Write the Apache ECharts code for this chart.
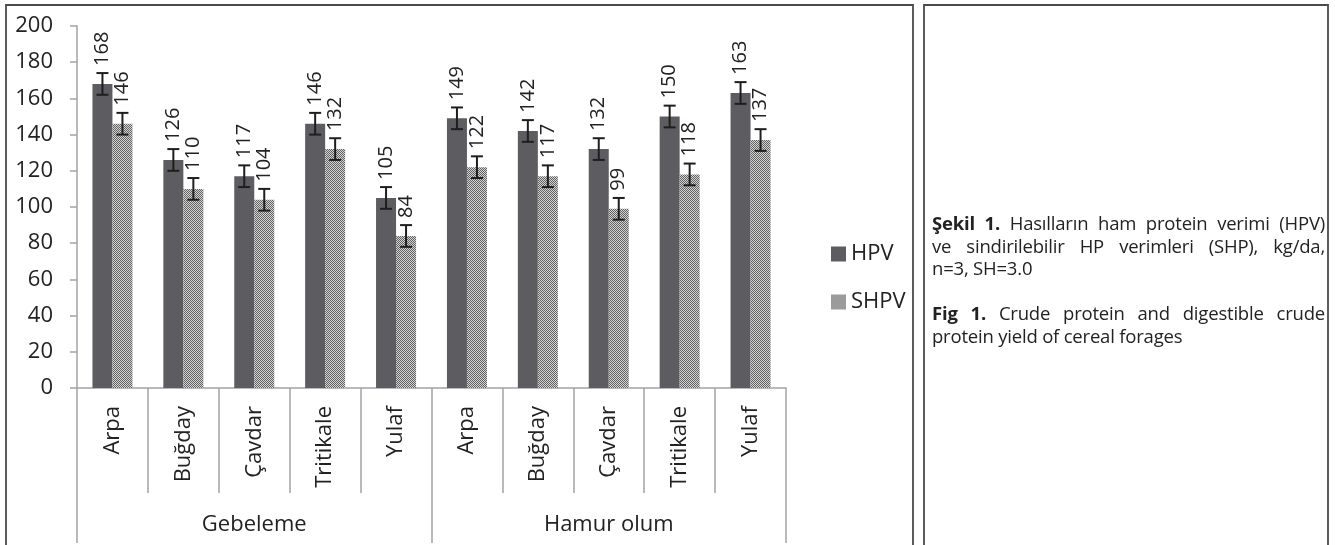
<!DOCTYPE html>
<html>
<head>
<meta charset="utf-8">
<script src="https://cdn.jsdelivr.net/npm/echarts@6/dist/echarts.min.js"></script>
<style>
  html, body { margin:0; padding:0; background:#fff; }
  #wrap { position:relative; width:1335px; height:545px; overflow:hidden; }
  #chart { position:absolute; left:0; top:0; width:1335px; height:545px; }
  #caption { position:absolute; left:932px; top:212px; width:393px; font-family:"Open Sans", sans-serif; font-size:18.5px; color:#222; line-height:22.6px; letter-spacing:-0.2px; }
  #caption .j { text-align:justify; text-align-last:justify; white-space:nowrap; }
  #caption .l { text-align:left; white-space:nowrap; }
  #caption b { font-weight:700; }
</style>
</head>
<body>
<div id="wrap">
  <div id="chart"></div>
  <div id="caption">
    <div class="j"><b>Şekil 1.</b> Hasılların ham protein verimi (HPV)</div>
    <div class="j">ve sindirilebilir HP verimleri (SHP), kg/da,</div>
    <div class="l">n=3, SH=3.0</div>
    <div class="l">&nbsp;</div>
    <div class="j"><b>Fig 1.</b> Crude protein and digestible crude</div>
    <div class="l">protein yield of cereal forages</div>
  </div>
</div>
<script>
const categories = ['Arpa', 'Buğday', 'Çavdar', 'Tritikale', 'Yulaf', 'Arpa', 'Buğday', 'Çavdar', 'Tritikale', 'Yulaf'];
const groups = ['Gebeleme', 'Hamur olum'];
const seriesNames = ['HPV', 'SHPV'];
const hpv = [168, 126, 117, 146, 105, 149, 142, 132, 150, 163];
const shpv = [146, 110, 104, 132, 84, 122, 117, 99, 118, 137];
const hpvErr = [6, 6, 6, 6, 6, 6, 6, 6, 6, 6];
const shpvErr = [6, 6, 6, 6, 6, 6, 6, 6, 6, 6];
const yTicks = [0, 20, 40, 60, 80, 100, 120, 140, 160, 180, 200];

const FONT = '"Open Sans", sans-serif';
const TXT = '#222';
const AXIS = '#a3a3a3';

// checkered pattern for SHPV
const pc = document.createElement('canvas');
pc.width = 2; pc.height = 2;
const pctx = pc.getContext('2d');
pctx.fillStyle = '#d4d4d4'; pctx.fillRect(0, 0, 2, 2);
pctx.fillStyle = '#626262'; pctx.fillRect(0, 0, 1, 1); pctx.fillRect(1, 1, 1, 1);
const shpvPattern = { image: pc, repeat: 'repeat' };

function errSeries(vals, errs, offset) {
  return {
    type: 'custom',
    z: 5,
    silent: true,
    data: vals.map((v, i) => [i, v, errs[i]]),
    renderItem: function (params, api) {
      const x = api.value(0), v = api.value(1), e = api.value(2);
      const top = api.coord([x, v + e]);
      const bot = api.coord([x, v - e]);
      const cx = top[0] + offset;
      const st = { stroke: '#1e1e1e', lineWidth: 2 };
      return {
        type: 'group',
        children: [
          { type: 'line', shape: { x1: cx, y1: top[1], x2: cx, y2: bot[1] }, style: st },
          { type: 'line', shape: { x1: cx - 6, y1: top[1], x2: cx + 6, y2: top[1] }, style: st },
          { type: 'line', shape: { x1: cx - 6, y1: bot[1], x2: cx + 6, y2: bot[1] }, style: st }
        ]
      };
    }
  };
}

const labelCfg = {
  show: true, position: 'top', rotate: 90, distance: 18,
  align: 'left', verticalAlign: 'middle',
  color: TXT, fontSize: 20, fontFamily: FONT
};

const chart = echarts.init(document.getElementById('chart'), null, { renderer: 'canvas' });
chart.setOption({
  animation: false,
  backgroundColor: '#fff',
  grid: { left: 77, right: 549, top: 26, bottom: 157, containLabel: false },
  legend: {
    data: seriesNames,
    orient: 'vertical', left: 826, top: 238,
    itemWidth: 15, itemHeight: 15, itemGap: 26,
    icon: 'rect',
    textStyle: { color: TXT, fontSize: 22, fontFamily: FONT, lineHeight: 22 }
  },
  xAxis: [
    {
      type: 'category', data: categories, position: 'bottom',
      axisLine: { show: true, lineStyle: { color: AXIS, width: 1.5 } },
      axisTick: { show: true, interval: 0, length: 105, lineStyle: { color: AXIS, width: 1.5 } },
      axisLabel: { interval: 0, rotate: 90, margin: 18, color: TXT, fontSize: 22, fontFamily: FONT }
    },
    {
      type: 'category', data: groups, position: 'bottom',
      axisLine: { show: false },
      axisTick: { show: true, interval: 0, length: 155, lineStyle: { color: AXIS, width: 1.5 } },
      axisLabel: { interval: 0, margin: 126, color: TXT, fontSize: 22, fontFamily: FONT }
    }
  ],
  yAxis: {
    type: 'value', min: yTicks[0], max: yTicks[yTicks.length - 1], interval: 20,
    axisLine: { show: true, lineStyle: { color: AXIS, width: 1.5 } },
    axisTick: { show: true, length: 7, lineStyle: { color: AXIS, width: 1.5 } },
    splitLine: { show: false },
    axisLabel: { margin: 24, color: TXT, fontSize: 22, fontFamily: FONT }
  },
  series: [
    {
      name: seriesNames[0], type: 'bar', xAxisIndex: 0, data: hpv,
      barWidth: 20, barGap: '0%',
      itemStyle: { color: '#5d5d61' },
      label: labelCfg
    },
    {
      name: seriesNames[1], type: 'bar', xAxisIndex: 0, data: shpv,
      barWidth: 20, barGap: '0%',
      itemStyle: { color: shpvPattern },
      label: labelCfg
    },
    errSeries(hpv, hpvErr, -10),
    errSeries(shpv, shpvErr, 10)
  ],
  graphic: [
    { type: 'rect', silent: true, shape: { x: 6, y: 5, width: 907, height: 600 }, style: { fill: 'none', stroke: '#4a4a4a', lineWidth: 1.8 } },
    { type: 'rect', silent: true, shape: { x: 924, y: 5, width: 404, height: 600 }, style: { fill: 'none', stroke: '#4a4a4a', lineWidth: 1.8 } }
  ]
});
</script>
</body>
</html>
